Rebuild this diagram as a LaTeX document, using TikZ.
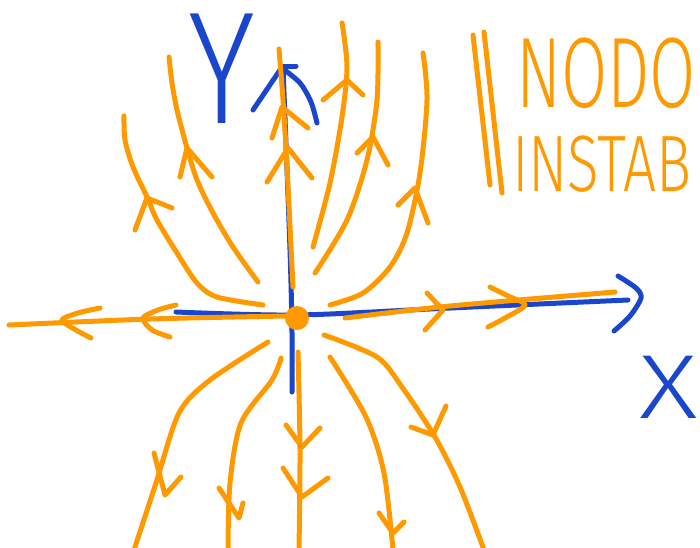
\documentclass[tikz,border=0pt]{standalone}
\usepackage{fontspec}
\newfontfamily\hand{Fira Sans}[UprightFont=* Light]
\definecolor{org}{RGB}{255,153,0}
\definecolor{axb}{RGB}{25,70,205}
\begin{document}
\begin{tikzpicture}[x=1pt,y=-1pt,
  traj/.style={draw=org,line width=5pt,line cap=round,line join=round},
  axisline/.style={draw=axb,line width=5pt,line cap=round,line join=round},
  lbl/.style={inner sep=0pt,outer sep=0pt}]
\useasboundingbox (0,0) rectangle (700,547);
\clip (0,0) rectangle (700,547);
\fill[white] (0,0) rectangle (700,547);

% blue axes
\draw[axisline] plot[smooth] coordinates {(176,312) (297,315) (450,308) (628,300)};
\draw[axisline] plot[smooth] coordinates {(292,392) (292,333) (290,250) (283,67)};
\draw[axisline] (253,110) -- (282,67);
\draw[axisline] plot[smooth] coordinates {(282,68) (300,83) (311,102) (317,123)};
\draw[axisline] (283,66) -- (296,66);
\draw[axisline] plot[smooth] coordinates {(618,276) (636,288) (641,298) (630,316) (614,331)};

% axis labels
\node[lbl,anchor=base,text=axb,font=\hand\fontsize{160}{160}\selectfont] (ylab) at (222,123) {\scalebox{0.8}[1]{Y}};
\node[lbl,anchor=base,text=axb,font=\hand\fontsize{91}{91}\selectfont] (xlab) at (669,418) {\scalebox{1.25}[1]{X}};

% title
\draw[traj] (473,35) -- (490,185);
\draw[traj] (484,32) -- (502,193);
\node[lbl,anchor=base west,text=org,font=\hand\fontsize{100}{100}\selectfont] (t1) at (516,107) {\scalebox{0.67}[1]{NODO}};
\node[lbl,anchor=base west,text=org,font=\hand\fontsize{80}{80}\selectfont] (t2) at (512,191) {\scalebox{0.73}[1]{INSTAB}};

% horizontal trajectories
\draw[traj] plot[smooth] coordinates {(9,325) (150,319) (286,316)};
\draw[traj] plot[smooth] coordinates {(100,308) (78,313) (62,320) (76,330) (91,338)};
\draw[traj] plot[smooth] coordinates {(176,305) (158,310) (143,318) (152,330) (170,337)};
\draw[traj] plot[smooth] coordinates {(345,318) (450,306) (615,292)};
\draw[traj] (427,293) -- (443,310) -- (425,330);
\draw[traj] plot[smooth] coordinates {(490,287) (508,296) (525,305) (505,318) (488,327)};

% upper trajectories
\draw[traj] plot[smooth] coordinates {(263,305) (217,297) (197,283) (177,253) (157,220) (147,197) (133,167) (125,140) (124,116)};
\draw[traj] (135,230) -- (147,198) -- (172,208);
\draw[traj] plot[smooth] coordinates {(258,282) (233,247) (213,213) (197,180) (187,148) (177,110) (172,83) (169,57)};
\draw[traj] (180,177) -- (187,148) -- (212,177);
\draw[traj] plot[smooth] coordinates {(293,287) (287,167) (283,100) (279,49)};
\draw[traj] (267,182) -- (288,148) -- (312,178);
\draw[traj] (272,138) -- (282,107) -- (308,128);
\draw[traj] plot[smooth] coordinates {(313,247) (330,183) (342,117) (347,67) (342,23)};
\draw[traj] (323,100) -- (347,80) -- (363,95);
\draw[traj] plot[smooth] coordinates {(315,273) (347,220) (367,160) (377,100) (378,42)};
\draw[traj] (357,153) -- (373,137) -- (388,165);
\draw[traj] plot[smooth] coordinates {(330,305) (363,293) (390,267) (407,233) (420,173) (427,100) (423,53)};
\draw[traj] (398,205) -- (415,188) -- (428,223);

% lower trajectories
\draw[traj] plot[smooth] coordinates {(268,342) (210,380) (179,413) (156,483) (134,550)};
\draw[traj] (154,453) -- (165,495) -- (181,477);
\draw[traj] plot[smooth] coordinates {(281,358) (272,380) (241,423) (230,483) (228,550)};
\draw[traj] (219,488) -- (239,518) -- (243,503);
\draw[traj] plot[smooth] coordinates {(298,352) (300,450) (299,550)};
\draw[traj] (286,425) -- (302,447) -- (320,428);
\draw[traj] (283,468) -- (302,497) -- (328,478);
\draw[traj] plot[smooth] coordinates {(330,357) (366,417) (384,473) (393,550)};
\draw[traj] (379,513) -- (393,533) -- (404,522);
\draw[traj] plot[smooth] coordinates {(324,335) (377,357) (402,387) (435,437) (460,487) (484,550)};
\draw[traj] (411,427) -- (433,435) -- (446,406);

% the node
\fill[org] (297,318) circle (12pt) node[lbl] (origin) {};
\end{tikzpicture}
\end{document}
